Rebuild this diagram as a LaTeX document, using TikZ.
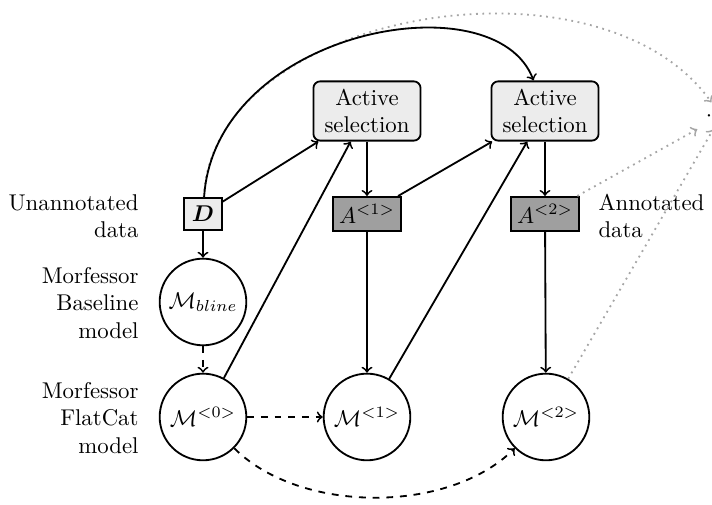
\documentclass[tikz,border=0pt]{standalone}
\usepackage{amsmath}
\begin{document}
\begin{tikzpicture}[x=0.4386pt, y=-0.4386pt, thick]
    \tikzset{model/.style={draw, circle, minimum size=38pt, inner sep=0pt}}
    \tikzset{selbox/.style={draw, rounded corners=3pt, fill=gray!15, align=center, minimum width=47pt, minimum height=26pt, inner sep=2pt}}
    \tikzset{annbox/.style={draw, fill=gray!75, minimum width=30pt, minimum height=15pt, inner sep=1pt}}
    \tikzset{databox/.style={draw, fill=gray!15, minimum width=16.5pt, minimum height=14pt, inner sep=1pt}}
    \tikzset{lbl/.style={align=right, anchor=east}}
    \tikzset{future/.style={->, gray!70, dotted}}
    \useasboundingbox (0,0) rectangle (712,505);

    \node[databox] (D) at (203,214) {$\boldsymbol{D}$};
    \node[model] (Mbline) at (203,302) {$\mathcal{M}_{bline}$};
    \node[model] (M0) at (203,417) {$\mathcal{M}^{<0>}$};
    \node[model] (M1) at (367,417) {$\mathcal{M}^{<1>}$};
    \node[model] (M2) at (546,417) {$\mathcal{M}^{<2>}$};
    \node[selbox] (Sel1) at (367,111) {Active\\selection};
    \node[selbox] (Sel2) at (545,111) {Active\\selection};
    \node[annbox] (A1) at (367,214) {$A^{<1>}$};
    \node[annbox] (A2) at (545,214) {$A^{<2>}$};
    \node (Dots) at (721,116) {$\cdots$};

    \node[lbl] (UnannLabel) at (147,216) {Unannotated\\data};
    \node[lbl] (BlineLabel) at (147,303) {Morfessor\\Baseline\\model};
    \node[lbl] (FlatLabel) at (147,418) {Morfessor\\FlatCat\\model};
    \node[align=left, anchor=west] (AnnLabel) at (590,216) {Annotated\\data};

    \draw[future] (D) .. controls (212,10) and (600,-55) .. (Dots);
    \draw[future] (A2) -- (Dots);
    \draw[future] (M2) -- (Dots);

    \draw[->] (D) .. controls (215,30) and (495,-22) .. (Sel2);
    \draw[->] (D) -- (Mbline);
    \draw[->, dashed] (Mbline) -- (M0);
    \draw[->, dashed] (M0) -- (M1);
    \draw[->, dashed] (M0) to[out=-45, in=-135, looseness=0.85] (M2);
    \foreach \i/\j in {D/Sel1, M0/Sel1, A1/Sel2, M1/Sel2, Sel1/A1, Sel2/A2, A1/M1, A2/M2}{
        \draw[->] (\i) -- (\j);
    }
\end{tikzpicture}
\end{document}
